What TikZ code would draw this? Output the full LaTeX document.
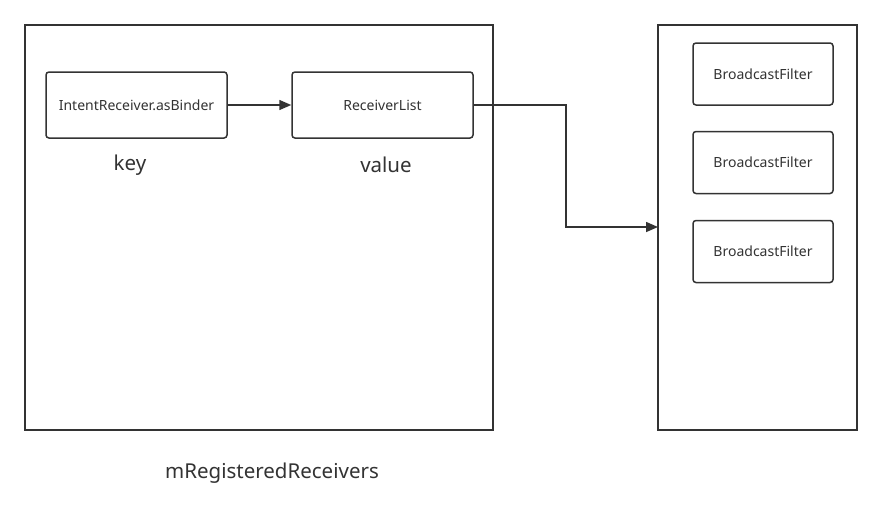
\documentclass[tikz,border=0pt]{standalone}
\usepackage{fontspec}
\setmainfont{Noto Sans}
\usetikzlibrary{arrows.meta}
\definecolor{ln}{HTML}{333333}
\definecolor{tx}{HTML}{333333}
\begin{document}
\begin{tikzpicture}[x=1pt,y=-1pt,
  outer/.style={draw=ln,line width=1.8pt},
  inbox/.style={draw=ln,line width=1.5pt,rounded corners=3pt,inner sep=0pt,text=tx,font=\fontsize{14}{16}\selectfont},
  lbl/.style={text=tx,font=\fontsize{20.5}{24}\selectfont,inner sep=0pt},
  conn/.style={draw=ln,line width=1.5pt,-{Triangle[length=12pt,width=10pt]}}]
\useasboundingbox (0,0) rectangle (882,522);
\fill[white] (0,0) rectangle (882,522);
\draw[outer] (25,25) rectangle (493,430);
\draw[outer] (658,25) rectangle (857,430);
\coordinate (rbl) at (658,227);
\node[inbox,minimum width=181pt,minimum height=66pt] (key) at (136.5,105) {IntentReceiver.asBinder};
\node[inbox,minimum width=181pt,minimum height=66pt] (val) at (382.5,105) {ReceiverList};
\node[inbox,minimum width=140pt,minimum height=62pt] (f1) at (763,74) {BroadcastFilter};
\node[inbox,minimum width=140pt,minimum height=62pt] (f2) at (763,162.5) {BroadcastFilter};
\node[inbox,minimum width=140pt,minimum height=62pt] (f3) at (763,251.5) {BroadcastFilter};
\node[lbl] (k) at (130,165) {key};
\node[lbl] (v) at (386,165) {value};
\node[lbl] (m) at (272,473) {mRegisteredReceivers};
\draw[conn] (key.east) -- (val.west);
\draw[conn] (val.east) -- (566,105) -- (566,227) -- (rbl);
\end{tikzpicture}
\end{document}
